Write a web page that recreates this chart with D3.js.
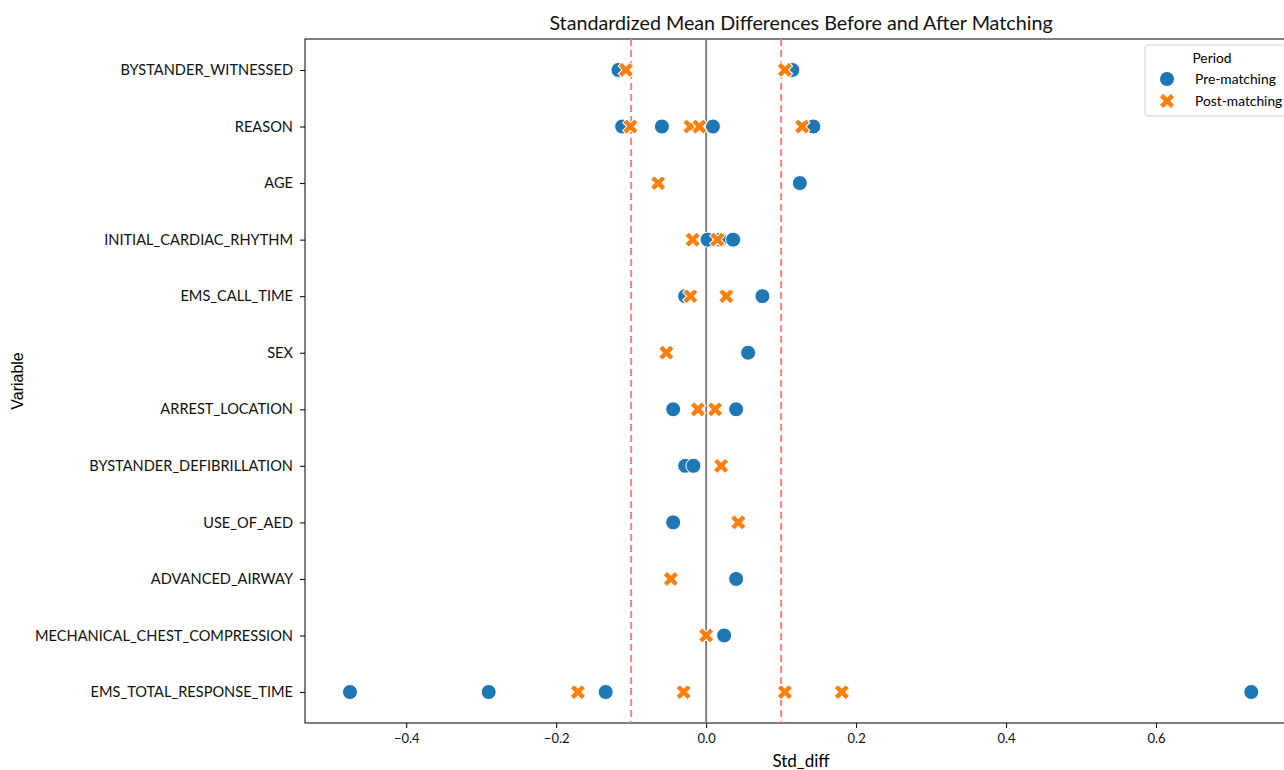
<!DOCTYPE html>
<html>
<head>
<meta charset="utf-8">
<script src="https://cdn.jsdelivr.net/npm/d3@7"></script>
<style>
  body { margin: 0; background: #fff; }
  svg { display: block; font-family: Lato, "Open Sans", sans-serif; }
</style>
</head>
<body>
<svg id="chart" width="1284" height="770"></svg>
<script>
// variables, top to bottom
const variables = [
    "BYSTANDER_WITNESSED", "REASON", "AGE", "INITIAL_CARDIAC_RHYTHM",
    "EMS_CALL_TIME", "SEX", "ARREST_LOCATION", "BYSTANDER_DEFIBRILLATION",
    "USE_OF_AED", "ADVANCED_AIRWAY", "MECHANICAL_CHEST_COMPRESSION",
    "EMS_TOTAL_RESPONSE_TIME"
];

// std diff values per variable (one entry per level)
const preMatching = [
    [-0.117, 0.115],
    [-0.112, -0.059, 0.009, 0.143],
    [0.125],
    [0.002, 0.019, 0.036],
    [-0.028, 0.075],
    [0.056],
    [-0.044, 0.040],
    [-0.028, -0.017],
    [-0.044],
    [0.040],
    [0.024],
    [-0.475, -0.290, -0.134, 0.727]
];

const postMatching = [
    [-0.107, 0.105],
    [-0.101, -0.021, -0.009, 0.128],
    [-0.064],
    [-0.018, 0.015],
    [-0.021, 0.027],
    [-0.053],
    [-0.011, 0.012],
    [0.020],
    [0.043],
    [-0.047],
    [0.000],
    [-0.171, -0.030, 0.105, 0.181]
];

const xTicks = [-0.4, -0.2, 0.0, 0.2, 0.4, 0.6];
const thresholds = [-0.1, 0.1];

const blue = "#1f77b4";
const orange = "#ff7f0e";

const svg = d3.select("#chart");
const plotLeft = 305, plotRight = 1297, plotTop = 39, plotBottom = 723;

const x = d3.scaleLinear().domain([-0.535, 0.788]).range([plotLeft, plotRight]);
const y = d3.scalePoint().domain(variables).range([41.7, 720.3]).padding(0.5);

// axes
const xAxis = svg.append("g")
    .attr("transform", `translate(0,${plotBottom})`)
    .call(d3.axisBottom(x).tickValues(xTicks).tickSize(5).tickPadding(6)
        .tickFormat(d => d3.format(".1f")(d).replace("-", "\u2212")));

const yAxis = svg.append("g")
    .attr("transform", `translate(${plotLeft},0)`)
    .call(d3.axisLeft(y).tickSize(5).tickPadding(7));

[xAxis, yAxis].forEach(a => {
    a.attr("font-family", null).attr("font-size", null);
    a.select(".domain").remove();
    a.selectAll("line").attr("stroke", "#000").attr("stroke-width", 1);
    a.selectAll("text").attr("fill", "#111").style("font-size", "14.6px");
});
xAxis.selectAll("text").style("font-size", "13px");

// frame
svg.append("rect")
    .attr("x", plotLeft).attr("y", plotTop)
    .attr("width", plotRight - plotLeft).attr("height", plotBottom - plotTop)
    .attr("fill", "none").attr("stroke", "#000").attr("stroke-width", 1);

// reference lines
svg.append("line")
    .attr("x1", x(0)).attr("x2", x(0)).attr("y1", plotTop).attr("y2", plotBottom)
    .attr("stroke", "#808080").attr("stroke-width", 2);

svg.selectAll(".thr")
    .data(thresholds)
    .join("line")
    .attr("x1", d => x(d)).attr("x2", d => x(d))
    .attr("y1", plotTop).attr("y2", plotBottom)
    .attr("stroke", "#ff7f7f").attr("stroke-width", 2)
    .attr("stroke-dasharray", "7,4");

// points
const preData = variables.flatMap((v, i) => preMatching[i].map(d => ({ v, d })));
const postData = variables.flatMap((v, i) => postMatching[i].map(d => ({ v, d })));

const cross = d3.symbol().type(d3.symbolCross).size(150);

svg.append("g").selectAll("circle")
    .data(preData)
    .join("circle")
    .attr("cx", p => x(p.d))
    .attr("cy", p => y(p.v))
    .attr("r", 7.5)
    .attr("fill", blue)
    .attr("stroke", "#fff")
    .attr("stroke-width", 1);

svg.append("g").selectAll("path")
    .data(postData)
    .join("path")
    .attr("d", cross)
    .attr("transform", p => `translate(${x(p.d)},${y(p.v)}) rotate(45)`)
    .attr("fill", orange)
    .attr("stroke", "#fff")
    .attr("stroke-width", 1);

// title and labels
svg.append("text")
    .attr("x", (plotLeft + plotRight) / 2).attr("y", 30)
    .attr("text-anchor", "middle")
    .style("font-size", "19.7px")
    .attr("fill", "#111")
    .text("Standardized Mean Differences Before and After Matching");

svg.append("text")
    .attr("x", (plotLeft + plotRight) / 2).attr("y", 767)
    .attr("text-anchor", "middle")
    .style("font-size", "17px")
    .text("Std_diff");

svg.append("text")
    .attr("transform", `translate(23,${(plotTop + plotBottom) / 2}) rotate(-90)`)
    .attr("text-anchor", "middle")
    .style("font-size", "16px")
    .style("font-family", "'Liberation Sans', Arial, sans-serif")
    .text("Variable");

// legend
const legend = svg.append("g").attr("transform", "translate(1145,45)");
legend.append("rect")
    .attr("width", 150).attr("height", 71).attr("rx", 3)
    .attr("fill", "#fff").attr("fill-opacity", 0.8)
    .attr("stroke", "#d0d0d0");
legend.append("text")
    .attr("x", 67).attr("y", 18).attr("text-anchor", "middle")
    .style("font-size", "13.8px").text("Period");

const entries = [
    { label: "Pre-matching", type: "circle" },
    { label: "Post-matching", type: "cross" }
];
entries.forEach((e, i) => {
    const ey = 34 + i * 22;
    if (e.type === "circle") {
        legend.append("circle").attr("cx", 22).attr("cy", ey).attr("r", 7.5)
            .attr("fill", blue).attr("stroke", "#fff");
    } else {
        legend.append("path").attr("d", cross)
            .attr("transform", `translate(22,${ey}) rotate(45)`)
            .attr("fill", orange).attr("stroke", "#fff");
    }
    legend.append("text")
        .attr("x", 50).attr("y", ey + 4.5)
        .style("font-size", "13.8px").text(e.label);
});
</script>
</body>
</html>
